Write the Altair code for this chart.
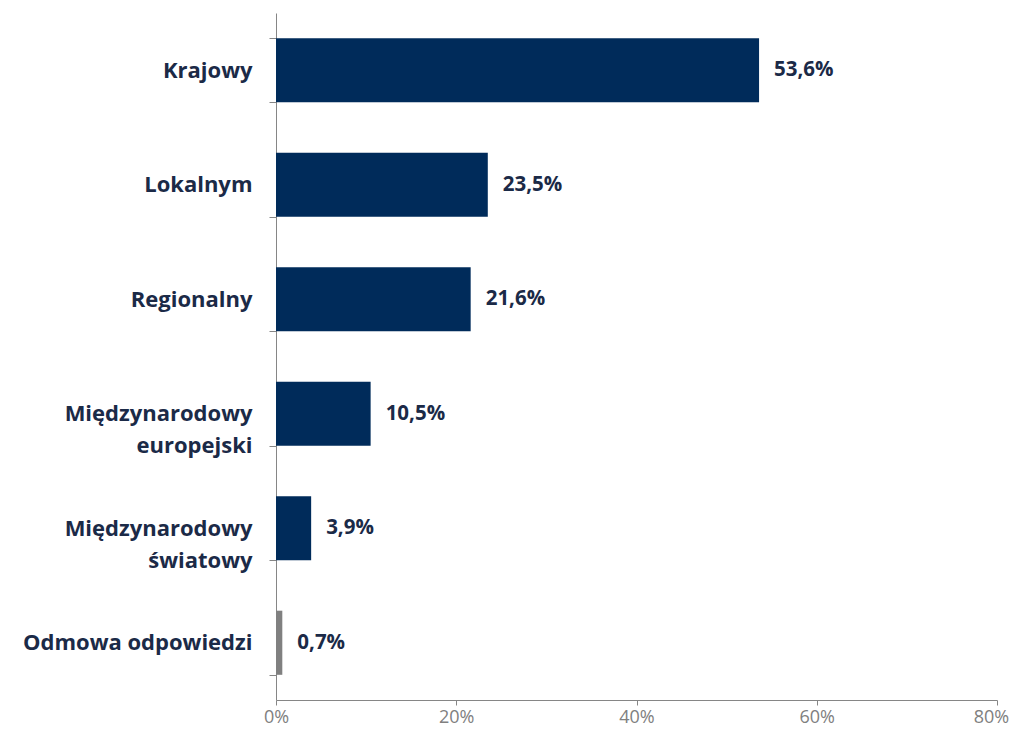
import altair as alt
import pandas as pd

categories = ["Krajowy", "Lokalnym", "Regionalny", "Międzynarodowy|europejski", "Międzynarodowy|światowy", "Odmowa odpowiedzi"]
values = [53.6, 23.5, 21.6, 10.5, 3.9, 0.7]
labels = ["53,6%", "23,5%", "21,6%", "10,5%", "3,9%", "0,7%"]
colors = ["#002B5A", "#002B5A", "#002B5A", "#002B5A", "#002B5A", "#808080"]

df = pd.DataFrame({"cat": categories, "val": values, "lab": labels, "col": colors})

FONT = "Open Sans"
NAVY = "#1B2A47"

y = alt.Y("cat:N", sort=categories, title=None,
          scale=alt.Scale(paddingInner=0.44, paddingOuter=0.22),
          axis=alt.Axis(tickBand="extent", domainColor="#868686", tickColor="#868686",
                        tickSize=7, labelFont=FONT, labelFontSize=22, labelFontWeight="bold",
                        labelColor=NAVY, labelPadding=17, labelLimit=400,
                        labelExpr="split(datum.label, '|')", labelLineHeight=32))

x = alt.X("val:Q", title=None,
          scale=alt.Scale(domain=[0, 80], nice=False),
          axis=alt.Axis(values=[0, 20, 40, 60, 80], labelExpr="datum.value + '%'",
                        labelFlush=False,
                        labelOffset={"expr": "datum.value == 80 ? -6 : 0"},
                        grid=False, domainColor="#868686", tickColor="#868686", tickSize=5,
                        labelFont=FONT, labelFontSize=18, labelColor="#808080", labelPadding=3))

bars = alt.Chart(df).mark_bar().encode(
    x=x, y=y,
    color=alt.Color("col:N", scale=None),
)

text = alt.Chart(df).mark_text(align="left", baseline="middle", dx=15, font=FONT,
                               fontSize=20.5, fontWeight="bold", color=NAVY).encode(
    x="val:Q", y=alt.Y("cat:N", sort=categories), text="lab:N"
)

chart = (bars + text).properties(
    width=721, height=687,
    autosize=alt.AutoSizeParams(type="none"),
    padding={"left": 268, "top": 5, "right": 14, "bottom": 27},
    background="white",
).configure_view(stroke=None)

chart.save("out.html", embed_options={"renderer": "svg", "actions": False})
